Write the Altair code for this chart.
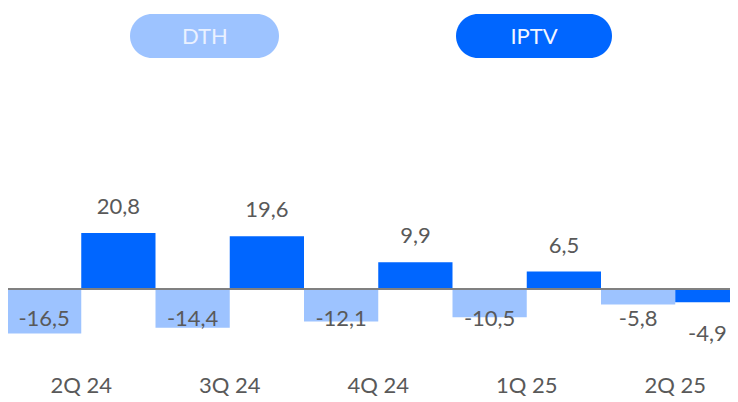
import altair as alt
import pandas as pd

quarters = ["2Q 24", "3Q 24", "4Q 24", "1Q 25", "2Q 25"]
dth = [-16.5, -14.4, -12.1, -10.5, -5.8]
iptv = [20.8, 19.6, 9.9, 6.5, -4.9]
series = ["DTH", "IPTV"]
colors = ["#9DC3FF", "#0066FF"]

rows = []
for k, (q, d, i) in enumerate(zip(quarters, dth, iptv)):
    for s_idx, (s, v) in enumerate([("DTH", d), ("IPTV", i)]):
        rows.append({
            "quarter": q, "series": s, "value": v,
            "x0": k + 0.5 * s_idx, "x1": k + 0.5 * s_idx + 0.5,
            "xc": k + 0.5 * s_idx + 0.25,
            "label": f"{v:.1f}".replace(".", ","),
        })
df = pd.DataFrame(rows)
cat_df = pd.DataFrame({"quarter": quarters, "xc": [k + 0.5 for k in range(len(quarters))]})
legend_df = pd.DataFrame({"series": series, "color": colors})

FONT = "Lato"
GRAY = "#595959"
W, H = 722, 390
PXU = 2.69          # pixels per unit
ZERO_Y = 281        # zero line, plot coords
STEP = 148.5        # pixels per quarter
X0 = -1             # plot x of first group start
Y_DOMAIN = [-(H - ZERO_Y) / PXU, ZERO_Y / PXU]
X_DOMAIN = [-X0 / STEP, (W - X0) / STEP]

x_scale = alt.Scale(domain=X_DOMAIN, nice=False, zero=False)
y_scale = alt.Scale(domain=Y_DOMAIN, nice=False, zero=False)
color_enc = alt.Color("series:N", scale=alt.Scale(domain=series, range=colors), legend=None)

base = alt.Chart(df)

bars = base.mark_bar(clip=True, cornerRadius=0).encode(
    x=alt.X("x0:Q", scale=x_scale, axis=None),
    x2="x1:Q",
    y=alt.Y("value:Q", scale=y_scale, axis=None),
    y2=alt.datum(0),
    color=color_enc,
)

zero = alt.Chart(pd.DataFrame({"z": [0]})).mark_rule(color="#808080", strokeWidth=2).encode(
    y=alt.Y("z:Q", scale=y_scale, axis=None)
)

pos_labels = base.transform_filter("datum.value >= 0").mark_text(
    font=FONT, fontSize=22, color=GRAY, baseline="middle", dy=-26
).encode(
    x=alt.X("xc:Q", scale=x_scale, axis=None),
    y=alt.Y("value:Q", scale=y_scale, axis=None),
    text="label:N",
)

neg_dth = base.transform_filter("datum.value < 0 && datum.series == 'DTH'").transform_calculate(
    ly="-11.2"
).mark_text(
    font=FONT, fontSize=22, color=GRAY, baseline="middle"
).encode(
    x=alt.X("xc:Q", scale=x_scale, axis=None),
    y=alt.Y("ly:Q", scale=y_scale, axis=None),
    text="label:N",
)

neg_iptv = base.transform_filter("datum.value < 0 && datum.series == 'IPTV'").transform_calculate(
    ly="-16.7"
).mark_text(
    font=FONT, fontSize=22, color=GRAY, baseline="middle", dx=-5
).encode(
    x=alt.X("xc:Q", scale=x_scale, axis=None),
    y=alt.Y("ly:Q", scale=y_scale, axis=None),
    text="label:N",
)

cat_labels = alt.Chart(cat_df).mark_text(
    font=FONT, fontSize=22, color=GRAY, baseline="alphabetic"
).encode(
    x=alt.X("xc:Q", scale=x_scale, axis=None),
    y=alt.value(H - 5),
    text="quarter:N",
)

pill_dth = alt.Chart(legend_df).transform_filter("datum.series == 'DTH'").mark_rect(
    cornerRadius=22, color=colors[0]
).encode(x=alt.value(122), x2=alt.value(271), y=alt.value(6), y2=alt.value(50))
pill_iptv = alt.Chart(legend_df).transform_filter("datum.series == 'IPTV'").mark_rect(
    cornerRadius=22, color=colors[1]
).encode(x=alt.value(448), x2=alt.value(604), y=alt.value(6), y2=alt.value(50))
txt_dth = alt.Chart(legend_df).transform_filter("datum.series == 'DTH'").mark_text(
    font=FONT, fontSize=22, color="#EAF1FF", baseline="middle"
).encode(x=alt.value(197), y=alt.value(29), text="series:N")
txt_iptv = alt.Chart(legend_df).transform_filter("datum.series == 'IPTV'").mark_text(
    font=FONT, fontSize=22, color="#F2F6FF", baseline="middle"
).encode(x=alt.value(526), y=alt.value(29), text="series:N")

chart = alt.layer(
    bars, zero, pos_labels, neg_dth, neg_iptv, cat_labels,
    pill_dth, pill_iptv, txt_dth, txt_iptv
).properties(
    width=W, height=H,
    autosize=alt.AutoSizeParams(type="none"),
    padding={"left": 0, "top": 0, "right": 0, "bottom": 0},
).configure_view(stroke=None)

chart.save("out.html", embed_options={"renderer": "svg", "actions": False})
